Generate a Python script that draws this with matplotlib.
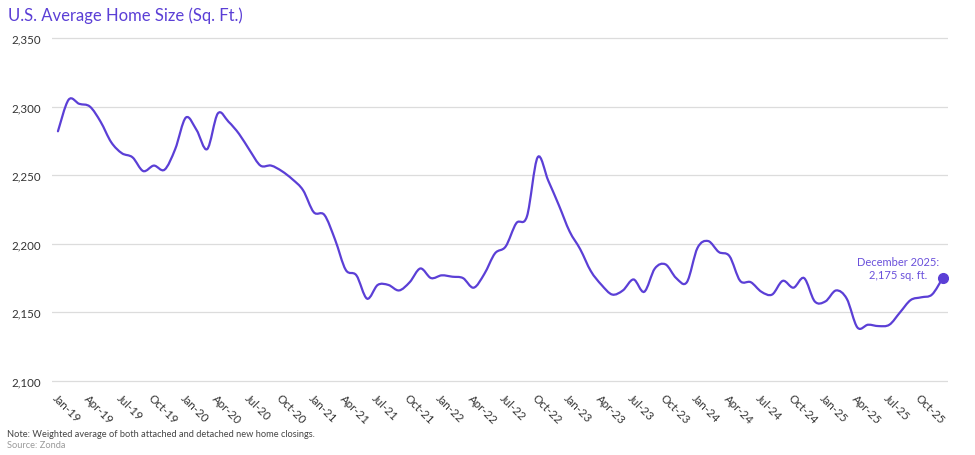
import numpy as np
import matplotlib.pyplot as plt
from matplotlib.path import Path
from matplotlib.patches import PathPatch

plt.rcParams['font.family'] = ['Lato', 'DejaVu Sans']

# Monthly average home size, Jan-2019 .. Dec-2025
months = [f'{m}-{y:02d}' for y in range(19, 26)
          for m in ['Jan', 'Feb', 'Mar', 'Apr', 'May', 'Jun',
                    'Jul', 'Aug', 'Sep', 'Oct', 'Nov', 'Dec']]
home_size = [
    2282, 2305, 2302, 2300, 2289, 2274, 2266, 2263, 2253, 2257, 2254, 2269,   # 2019
    2292, 2283, 2269, 2295, 2289, 2280, 2268, 2257, 2257, 2253, 2247, 2239,   # 2020
    2223, 2221, 2203, 2181, 2177, 2160, 2170, 2170, 2166, 2172, 2182, 2175,   # 2021
    2177, 2176, 2175, 2168, 2178, 2193, 2198, 2215, 2220, 2263, 2246, 2228,   # 2022
    2209, 2196, 2180, 2170, 2163, 2166, 2174, 2165, 2182, 2185, 2175, 2172,   # 2023
    2197, 2202, 2194, 2191, 2173, 2172, 2165, 2163, 2173, 2168, 2175, 2158,   # 2024
    2158, 2166, 2160, 2139, 2141, 2140, 2141, 2150, 2159, 2161, 2163, 2175,   # 2025
]
tick_every = 3
y_ticks = [2100, 2150, 2200, 2250, 2300, 2350]

purple = '#5b3fd6'
x = np.arange(len(home_size))
y = np.array(home_size, dtype=float)

fig = plt.figure(figsize=(9.75, 4.56), dpi=100)
ax = fig.add_axes([0.0533, 0.1533, 0.919, 0.7702])

# smooth line: Catmull-Rom segments drawn as cubic Bezier curves
pts = np.column_stack([x, y])
ext = np.vstack([pts[0], pts, pts[-1]])
verts = [tuple(pts[0])]
codes = [Path.MOVETO]
for i in range(len(pts) - 1):
    p0, p1, p2, p3 = ext[i], ext[i + 1], ext[i + 2], ext[i + 3]
    c1 = p1 + (p2 - p0) / 6
    c2 = p2 - (p3 - p1) / 6
    verts += [tuple(c1), tuple(c2), tuple(p2)]
    codes += [Path.CURVE4] * 3
ax.add_patch(PathPatch(Path(verts, codes), facecolor='none',
                       edgecolor=purple, lw=1.6, capstyle='round', zorder=3))

ax.plot(x[-1], y[-1], 'o', color=purple, markersize=7, zorder=4)
ax.text(x[-1] - 4.2, y[-1] + 7.5, 'December 2025:\n2,175 sq. ft.', color='#6a50db',
        fontsize=8, ha='center', va='center', linespacing=1.25)

ax.set_xlim(-0.56, 83.5)
ax.set_ylim(2097, 2353)
ax.set_yticks(y_ticks)
ax.set_yticklabels([f'{v:,}' for v in y_ticks])
ax.set_xticks(x[::tick_every])
ax.set_xticklabels(months[::tick_every], rotation=-45, ha='left', va='top',
                   rotation_mode='anchor')
ax.tick_params(axis='both', length=0, labelsize=8.3, colors='#333333')
ax.tick_params(axis='x', pad=5)
ax.tick_params(axis='y', pad=8)
ax.grid(axis='y', color='#dcdcdc', lw=0.9)
ax.set_axisbelow(True)
for s in ax.spines.values():
    s.set_visible(False)

fig.text(0.008, 0.965, 'U.S. Average Home Size (Sq. Ft.)', color=purple,
         fontsize=12, va='center', ha='left')
fig.text(0.007, 0.048, 'Note: Weighted average of both attached and detached new home closings.',
         color='#444444', fontsize=6.7, va='center')
fig.text(0.007, 0.024, 'Source: Zonda', color='#9a9a9a', fontsize=6.7, va='center')

plt.savefig('out.png', dpi=100)
